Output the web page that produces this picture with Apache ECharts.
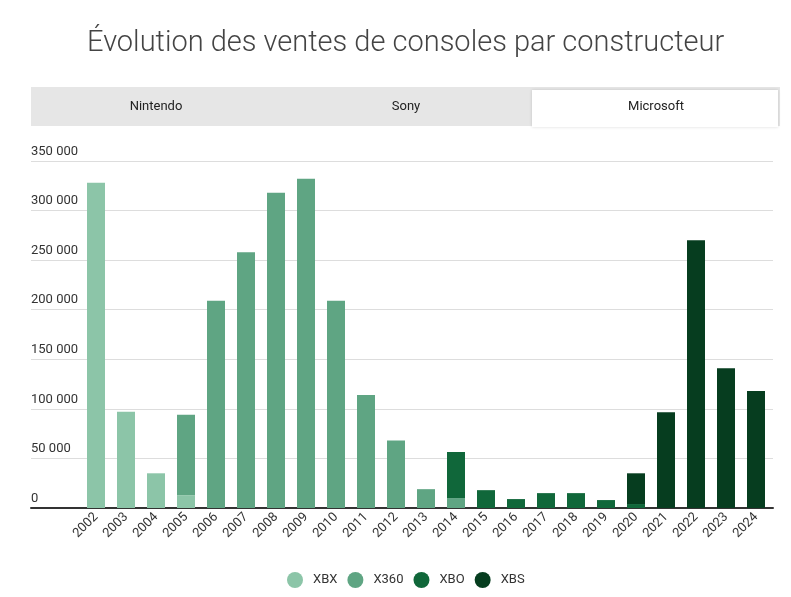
<!DOCTYPE html>
<html lang="fr">
<head>
	<meta charset="UTF-8">
	<title>Ventes consoles Microsoft</title>
	<style>
		html, body { margin: 0; padding: 0; background: #fff; }
		#main { width: 791px; height: 597px; }
	</style>
</head>
<body>
	<div id="main"></div>
	<script src="https://cdn.jsdelivr.net/npm/echarts@6/dist/echarts.min.js"></script>
	<script>
		// données
		var annees = ['2002','2003','2004','2005','2006','2007','2008','2009','2010','2011','2012',
			'2013','2014','2015','2016','2017','2018','2019','2020','2021','2022','2023','2024'];
		var xbx  = [328000, 97000, 35000, 13000, null, null, null, null, null, null, null,
			null, null, null, null, null, null, null, null, null, null, null, null];
		var x360 = [null, null, null, 81000, 209000, 258000, 318000, 332000, 209000, 114000, 68000,
			19000, 10000, null, null, null, null, null, null, null, null, null, null];
		var xbo  = [null, null, null, null, null, null, null, null, null, null, null,
			null, 46500, 18000, 9000, 15000, 15000, 8000, 4000, null, null, null, null];
		var xbs  = [null, null, null, null, null, null, null, null, null, null, null,
			null, null, null, null, null, null, null, 31000, 96500, 270000, 141000, 118000];
		var onglets = ['Nintendo', 'Sony', 'Microsoft'];

		var couleurs = ['#8cc5a8', '#5fa583', '#10673a', '#063d1f'];
		var police = 'Roboto, "Noto Sans", sans-serif';

		var myChart = echarts.init(document.getElementById('main'));

		// onglets du haut
		var graphics = [{
			type: 'rect',
			shape: { x: 31, y: 87, width: 749, height: 39 },
			style: { fill: '#e6e6e6' }
		}, {
			type: 'rect',
			shape: { x: 532, y: 90, width: 246, height: 37 },
			style: { fill: '#fff', shadowBlur: 3, shadowColor: 'rgba(0,0,0,0.15)' }
		}];
		onglets.forEach(function (nom, i) {
			graphics.push({
				type: 'text',
				x: 31 + 250 * i + 125,
				y: 107,
				style: {
					text: nom, fill: '#222', font: '13px ' + police,
					textAlign: 'center', textVerticalAlign: 'middle'
				}
			});
		});

		var option = {
			textStyle: { fontFamily: police },
			title: {
				text: 'Évolution des ventes de consoles par constructeur',
				left: 82,
				top: 24,
				textStyle: { fontSize: 29, fontWeight: 300, color: '#444', fontFamily: police }
			},
			color: couleurs,
			graphic: graphics,
			legend: {
				top: 567,
				left: 282,
				icon: 'circle',
				itemWidth: 16,
				itemHeight: 16,
				itemGap: 10,
				textStyle: { fontSize: 13, color: '#333', padding: [0, 0, 0, 5] },
				data: ['XBX', 'X360', 'XBO', 'XBS']
			},
			grid: [
				// grille des lignes horizontales et de l'axe
				{ left: 31, right: 18, top: 161, bottom: 89 },
				// grille des barres
				{ left: 81, right: 20, top: 161, bottom: 89 }
			],
			xAxis: [
				{
					gridIndex: 0,
					type: 'value',
					min: 0, max: 1,
					axisLine: { show: true, onZero: false, lineStyle: { color: '#333', width: 2 } },
					axisTick: { show: false },
					axisLabel: { show: false },
					splitLine: { show: false }
				},
				{
					gridIndex: 1,
					type: 'category',
					data: annees,
					axisLine: { show: false },
					axisTick: { show: false },
					axisLabel: { rotate: 45, fontSize: 13, color: '#333', margin: 7, interval: 0 }
				}
			],
			yAxis: [
				{
					gridIndex: 0,
					type: 'value',
					min: 0, max: 350000, interval: 50000,
					axisLine: { show: false },
					axisTick: { show: false },
					splitLine: { lineStyle: { color: '#ddd' } },
					axisLabel: {
						inside: true,
						margin: 0,
						align: 'left',
						verticalAlign: 'bottom',
						padding: [0, 0, 3, 0],
						fontSize: 13,
						color: '#333',
						formatter: function (v) {
							return String(v).replace(/\B(?=(\d{3})+(?!\d))/g, ' ');
						}
					}
				},
				{
					gridIndex: 1,
					type: 'value',
					min: 0, max: 350000, interval: 50000,
					show: false
				}
			],
			series: [
				{ name: 'XBX',  type: 'bar', stack: 'ms', xAxisIndex: 1, yAxisIndex: 1, barWidth: 18, data: xbx },
				{ name: 'X360', type: 'bar', stack: 'ms', xAxisIndex: 1, yAxisIndex: 1, barWidth: 18, data: x360 },
				{ name: 'XBO',  type: 'bar', stack: 'ms', xAxisIndex: 1, yAxisIndex: 1, barWidth: 18, data: xbo },
				{ name: 'XBS',  type: 'bar', stack: 'ms', xAxisIndex: 1, yAxisIndex: 1, barWidth: 18, data: xbs }
			]
		};

		myChart.setOption(option);
	</script>
</body>
</html>
